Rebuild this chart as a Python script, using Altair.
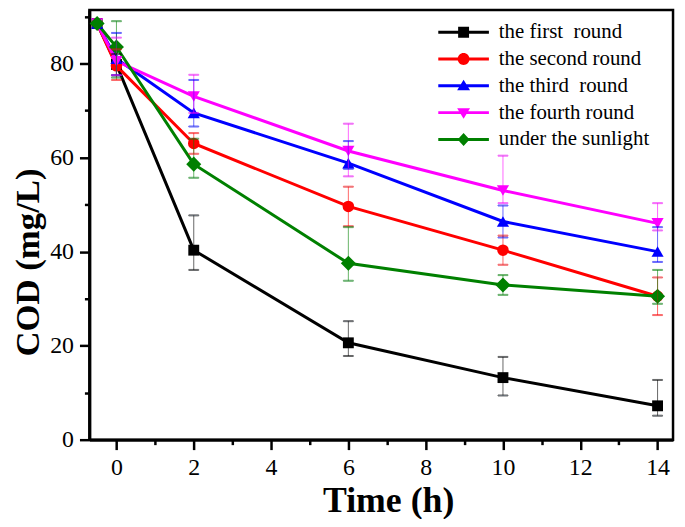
import altair as alt
import pandas as pd

# ---------------- data ----------------
series = ["the first  round", "the second round", "the third  round",
          "the fourth round", "under the sunlight"]
colors = ["#000000", "#ff0000", "#0000ff", "#ff00ff", "#008000"]
shapes = ["square", "circle", "triangle-up", "triangle-down", "diamond"]
marker_sizes = [120, 135, 150, 150, 230]

times = [-0.5, 0, 2, 6, 10, 14]

first_round = [88.5, 79.8, 40.3, 20.6, 13.2, 7.2]
first_lo = [None, 77.5, 36.1, 17.8, 9.4, 5.1]
first_hi = [None, 82.0, 47.7, 25.2, 17.6, 12.7]

second_round = [88.5, 79.5, 63.0, 49.6, 40.3, 30.5]
second_lo = [None, 76.5, 60.8, 45.4, 37.2, 26.5]
second_hi = [None, 83.0, 65.2, 53.8, 43.4, 34.5]

third_round = [88.5, 81.0, 69.5, 58.8, 46.4, 40.0]
third_lo = [None, 77.5, 66.6, 57.6, 43.0, 37.8]
third_hi = [None, 86.5, 76.5, 63.5, 49.8, 45.2]

fourth_round = [88.5, 80.5, 73.0, 61.4, 53.0, 46.0]
fourth_lo = [None, 77.5, 69.5, 56.0, 50.3, 44.5]
fourth_hi = [None, 85.5, 77.6, 67.2, 60.4, 50.3]

sunlight = [88.5, 83.5, 58.6, 37.5, 32.9, 30.5]
sunlight_lo = [None, 77.0, 55.7, 33.8, 30.8, 28.9]
sunlight_hi = [None, 89.0, 64.0, 45.2, 35.0, 36.1]

values = [first_round, second_round, third_round, fourth_round, sunlight]
los = [first_lo, second_lo, third_lo, fourth_lo, sunlight_lo]
his = [first_hi, second_hi, third_hi, fourth_hi, sunlight_hi]

rows = []
for s, c, m, ms, v, lo, hi in zip(series, colors, shapes, marker_sizes, values, los, his):
    for t, y, a, b in zip(times, v, lo, hi):
        rows.append({"series": s, "color": c, "marker": m, "msize": ms,
                     "t": t, "cod": y, "lo": a, "hi": b})
df = pd.DataFrame(rows)
err = df.dropna(subset=["lo", "hi"])

# ---------------- legend symbols (line + marker) ----------------
L = "M-2.55,-0.15L2.55,-0.15L2.55,0.15L-2.55,0.15Z"
legend_paths = {
    series[0]: L + "M-0.55,-0.55L0.55,-0.55L0.55,0.55L-0.55,0.55Z",
    series[1]: L + "M-0.6,0A0.6,0.6 0 1,1 0.6,0A0.6,0.6 0 1,1 -0.6,0Z",
    series[2]: L + "M0,-0.62L0.65,0.45L-0.65,0.45Z",
    series[3]: L + "M0,0.62L-0.65,-0.45L0.65,-0.45Z",
    series[4]: L + "M0,-0.65L0.6,0L0,0.65L-0.6,0Z",
}
expr = "'" + legend_paths[series[4]] + "'"
for s in reversed(series[:4]):
    expr = "datum.value === '" + s + "' ? '" + legend_paths[s] + "' : " + expr

FONT = "Liberation Serif"

xscale = alt.Scale(domain=[-0.7, 14.4], nice=False, zero=False)
yscale = alt.Scale(domain=[0, 91.4], nice=False, zero=False)

xaxis = alt.Axis(
    values=list(range(0, 15)),
    labelExpr="datum.value % 2 === 0 ? datum.label : ''",
    tickSize={"condition": {"test": "datum.value % 2 === 0", "value": 10}, "value": 5},
    title="Time (h)", titleFontSize=36, labelPadding=6, titlePadding=4,
    titleX=301,
    labelFlush=False, labelOverlap=False, grid=False,
)
yaxis = alt.Axis(
    values=list(range(0, 91, 10)),
    labelExpr="datum.value % 20 === 0 ? datum.label : ''",
    tickSize={"condition": {"test": "datum.value % 20 === 0", "value": 10}, "value": 5},
    title="COD (mg/L)", titleFontSize=35, labelPadding=6, titlePadding=4,
    titleY=254,
    labelFlush=False, labelOverlap=False, grid=False,
)

stroke_enc = alt.Stroke("color:N", scale=None)

base = alt.Chart(df)

lines = base.mark_line(strokeWidth=3).encode(
    x=alt.X("t:Q", scale=xscale, axis=xaxis),
    y=alt.Y("cod:Q", scale=yscale, axis=yaxis),
    stroke=stroke_enc,
    detail="series:N",
    order=alt.Order("t:Q"),
)

points = base.mark_point(filled=True, opacity=1, strokeWidth=0).encode(
    x=alt.X("t:Q", scale=xscale),
    y=alt.Y("cod:Q", scale=yscale),
    fill=alt.Fill("series:N", scale=alt.Scale(domain=series, range=colors),
                  legend=alt.Legend(
                      title=None, orient="none", legendX=351, legendY=12,
                      symbolType=alt.ExprRef(expr), symbolSize=400,
                      symbolOffset=15.5, labelOffset=25, symbolStrokeWidth=0,
                      labelFont=FONT, labelFontSize=21, labelColor="black",
                      labelExpr="replace(datum.label, '  ', ' \u00a0')",
                      labelLimit=400, rowPadding=5, padding=0,
                  )),
    shape=alt.Shape("marker:N", scale=None),
    size=alt.Size("msize:Q", scale=None),
)

ebase = alt.Chart(err)
rules = ebase.mark_rule(strokeWidth=1, opacity=0.6).encode(
    x=alt.X("t:Q", scale=xscale),
    y=alt.Y("lo:Q", scale=yscale),
    y2="hi:Q",
    stroke=stroke_enc,
)
caps_lo = ebase.mark_tick(orient="horizontal", size=10, thickness=1, opacity=0.6).encode(
    x=alt.X("t:Q", scale=xscale),
    y=alt.Y("lo:Q", scale=yscale),
    stroke=stroke_enc,
)
caps_hi = ebase.mark_tick(orient="horizontal", size=10, thickness=1, opacity=0.6).encode(
    x=alt.X("t:Q", scale=xscale),
    y=alt.Y("hi:Q", scale=yscale),
    stroke=stroke_enc,
)

chart = alt.layer(lines, points, rules, caps_lo, caps_hi).properties(
    width=588, height=433,
    padding={"left": 82, "top": 0, "right": 4, "bottom": 78},
    autosize=alt.AutoSizeParams(type="none"),
).configure_view(
    stroke="black", strokeWidth=2.5
).configure_axis(
    domainColor="black", domainWidth=3, tickColor="black", tickWidth=2.5,
    labelFont=FONT, labelFontSize=24, labelColor="black",
    titleFont=FONT, titleFontWeight="bold", titleColor="black",
)

chart.save("out.html", embed_options={"renderer": "svg", "actions": False})
